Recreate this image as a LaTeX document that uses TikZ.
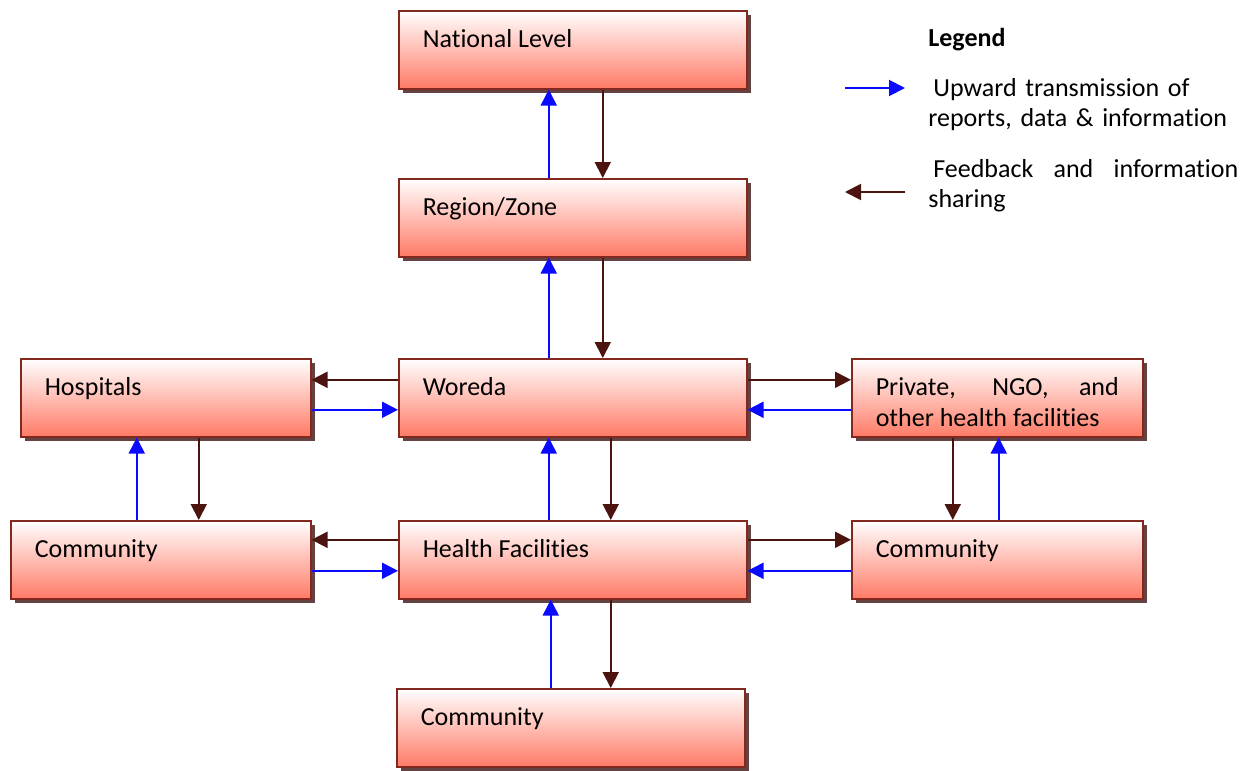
\documentclass[tikz,border=0pt]{standalone}
\usepackage{fontspec}
\setmainfont{Carlito}[Ligatures=NoCommon]
\usepackage{tikz}
\usetikzlibrary{shapes,arrows.meta,shadows}
\definecolor{boxred}{RGB}{255,122,102}
\definecolor{boxline}{RGB}{130,40,30}
\definecolor{boxshadow}{RGB}{100,66,66}
\definecolor{upblue}{RGB}{10,10,255}
\definecolor{backbrown}{RGB}{75,20,15}

\begin{document}
\begin{tikzpicture}[x=0.02cm, y=-0.02cm,
    font=\fontsize{14.8pt}{17.6pt}\selectfont,
    level/.style={draw=boxline, line width=0.9pt, top color=white, bottom color=boxred,
      general shadow={fill=boxshadow, shadow xshift=0.08cm, shadow yshift=-0.08cm},
      anchor=north west, inner xsep=0.48cm, inner ysep=0pt,
      text height=0.74cm, text depth=0.82cm, align=justify},
    wide/.style={level, text width=6cm},
    narrow/.style={level, text width=4.86cm},
    up/.style={draw=upblue, line width=1.1pt, -{Triangle[length=0.32cm,width=0.32cm]}},
    back/.style={draw=backbrown, line width=1.1pt, -{Triangle[length=0.32cm,width=0.32cm]}}]
      \useasboundingbox (0,0) rectangle (1248,771);

      % levels
      \node[wide] (national) at (398,10) {National Level};
      \node[wide] (region) at (398,178) {Region/Zone};
      \node[wide] (woreda) at (398,358) {Woreda};
      \node[narrow, text width=4.84cm] (hospitals) at (20,358) {Hospitals};
      \node[narrow] (private) at (851,358) {Private, NGO, and other health facilities};
      \node[narrow, text width=5.04cm] (comleft) at (10,520) {Community};
      \node[wide] (facilities) at (398,520) {Health Facilities};
      \node[narrow] (comright) at (851,520) {Community};
      \node[wide] (combottom) at (396,688) {Community};

      % up the chain
      \draw[up] ([xshift=-0.48cm]region.north) -- ([xshift=-0.48cm]region.north |- national.south);
      \draw[back] ([xshift=0.6cm]region.north |- national.south) -- ([xshift=0.6cm]region.north);
      \draw[up] ([xshift=-0.48cm]woreda.north) -- ([xshift=-0.48cm]woreda.north |- region.south);
      \draw[back] ([xshift=0.6cm]woreda.north |- region.south) -- ([xshift=0.6cm]woreda.north);
      \draw[up] ([xshift=-0.48cm]facilities.north) -- ([xshift=-0.48cm]facilities.north |- woreda.south);
      \draw[back] ([xshift=0.76cm]facilities.north |- woreda.south) -- ([xshift=0.76cm]facilities.north);
      \draw[up] ([xshift=-0.4cm]combottom.north) -- ([xshift=-0.4cm]combottom.north |- facilities.south);
      \draw[back] ([xshift=0.8cm]combottom.north |- facilities.south) -- ([xshift=0.8cm]combottom.north);

      % sides of the woreda
      \draw[back] ([yshift=0.36cm]woreda.west) -- ([yshift=0.36cm]hospitals.east);
      \draw[up] ([yshift=-0.24cm]hospitals.east) -- ([yshift=-0.24cm]woreda.west);
      \draw[back] ([yshift=0.36cm]woreda.east) -- ([yshift=0.36cm]private.west);
      \draw[up] ([yshift=-0.24cm]private.west) -- ([yshift=-0.24cm]woreda.east);

      % sides of the health facilities
      \draw[back] ([yshift=0.4cm]facilities.west) -- ([yshift=0.4cm]comleft.east);
      \draw[up] ([yshift=-0.22cm]comleft.east) -- ([yshift=-0.22cm]facilities.west);
      \draw[back] ([yshift=0.4cm]facilities.east) -- ([yshift=0.4cm]comright.west);
      \draw[up] ([yshift=-0.22cm]comright.west) -- ([yshift=-0.22cm]facilities.east);

      % communities below the sides
      \draw[up] ([xshift=-0.48cm]comleft.north) -- ([xshift=-0.48cm]comleft.north |- hospitals.south);
      \draw[back] ([xshift=0.76cm]comleft.north |- hospitals.south) -- ([xshift=0.76cm]comleft.north);
      \draw[back] ([xshift=-0.89cm]comright.north |- private.south) -- ([xshift=-0.89cm]comright.north);
      \draw[up] ([xshift=0.03cm]comright.north) -- ([xshift=0.03cm]comright.north |- private.south);

      % legend
      \node[anchor=base west, inner sep=0pt, font=\fontsize{14.8pt}{17.6pt}\bfseries\selectfont] (legend) at (928,46) {Legend};
      \coordinate (upfrom) at (845,88);
      \coordinate (upto) at (905,88);
      \draw[up] (upfrom) -- (upto);
      \node[anchor=base west, inner sep=0pt, text width=6.2cm, align=left] (uptext) at (928,96)
        {\hspace*{0.1cm}Upward transmission of\\reports, data \& information};
      \coordinate (backfrom) at (905,192);
      \coordinate (backto) at (845,192);
      \draw[back] (backfrom) -- (backto);
      \node[anchor=base west, inner sep=0pt, text width=6.2cm, align=justify] (backtext) at (928,177)
        {\hspace*{0.1cm}Feedback and information sharing};
\end{tikzpicture}
\end{document}
